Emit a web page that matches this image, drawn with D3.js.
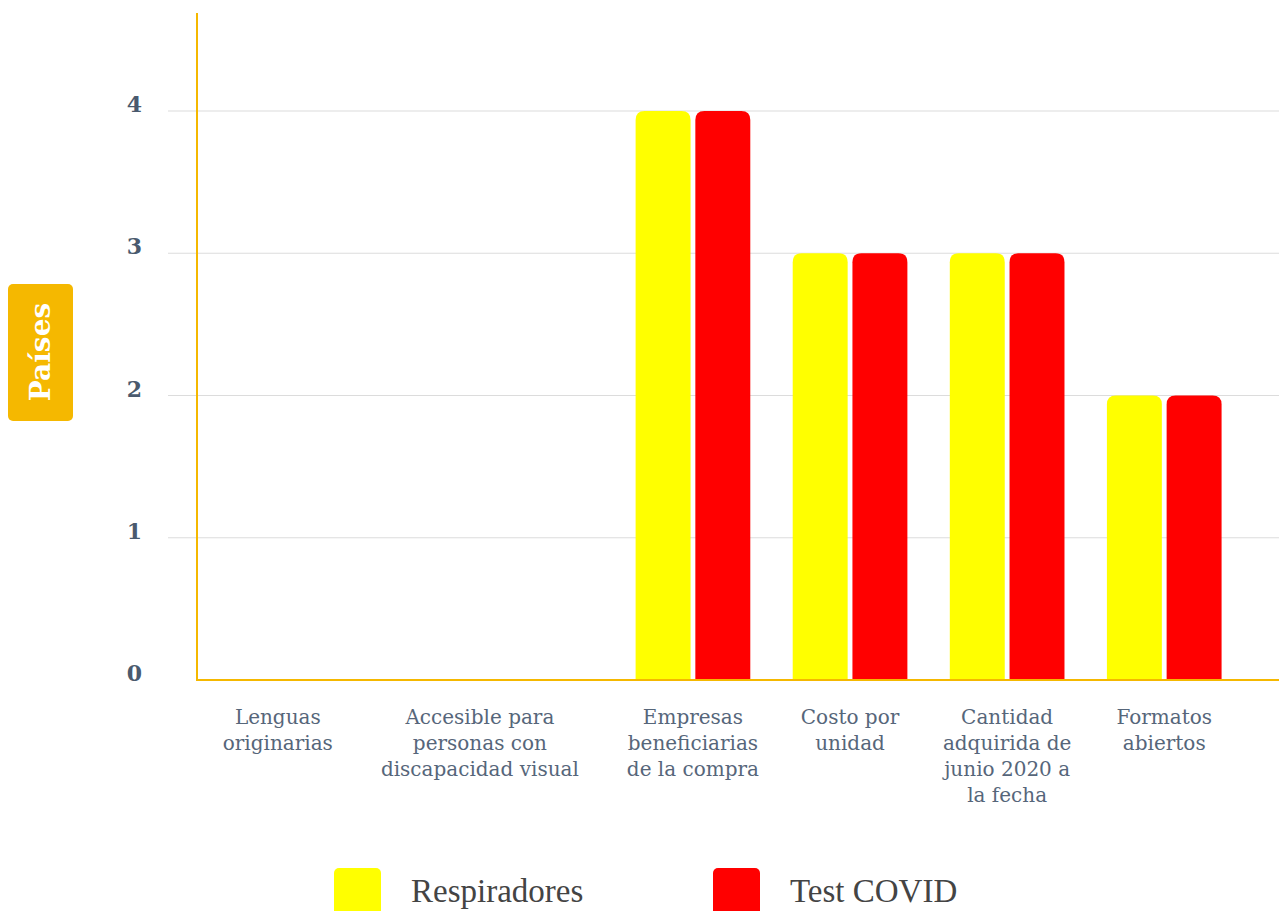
<!DOCTYPE html>
<html>
<head>
<meta charset="utf-8">
<script src="https://cdn.jsdelivr.net/npm/d3@7"></script>
<style>
  html, body { margin: 0; padding: 0; background: #ffffff; }
  svg { display: block; }
</style>
</head>
<body>
<svg id="chart" width="1279" height="911"></svg>
<script>
// Categories (line breaks mark where each label wraps)
const categories = [
  "Lenguas\noriginarias",
  "Accesible para\npersonas con\ndiscapacidad visual",
  "Empresas\nbeneficiarias\nde la compra",
  "Costo por\nunidad",
  "Cantidad\nadquirida de\njunio 2020 a\nla fecha",
  "Formatos\nabiertos"
];
const seriesNames = ["Respiradores", "Test COVID"];
const respiradores = [0, 0, 4, 3, 3, 2];
const testCovid    = [0, 0, 4, 3, 3, 2];
const yTicks = [0, 1, 2, 3, 4];
const axisTitle = "Países";
const seriesColors = ["#ffff00", "#ff0000"];

const svg = d3.select("#chart");
const plot = { left: 197, right: 1279, top: 13, bottom: 680 };
const accent = "#f5b800";
const textColor = "#56667a";

const y = d3.scaleLinear().domain([0, 4]).range([plot.bottom, 111]);

const x = d3.scaleBand()
  .domain(categories)
  .range([279, 1264])
  .paddingInner(0.27)
  .paddingOuter(0.27);

const xs = d3.scaleBand()
  .domain(seriesNames)
  .range([0, x.bandwidth()])
  .paddingInner(0.08);

const values = { "Respiradores": respiradores, "Test COVID": testCovid };

// Gridlines and y tick labels
svg.append("g").selectAll("line")
  .data(yTicks.filter(d => d > 0))
  .join("line")
  .attr("x1", 168).attr("x2", plot.right)
  .attr("y1", d => y(d)).attr("y2", d => y(d))
  .attr("stroke", "#dcdcdc").attr("stroke-width", 1.2);

svg.append("g").selectAll("text")
  .data(yTicks)
  .join("text")
  .attr("x", 142)
  .attr("y", d => y(d) + 1)
  .attr("text-anchor", "end")
  .attr("font-family", "'DejaVu Serif', serif")
  .attr("font-weight", "bold")
  .attr("font-size", 22)
  .attr("fill", "#4a5a6e")
  .text(d => d);

// Bars with rounded tops
function roundedTop(x0, y0, w, h, r) {
  r = Math.min(r, w / 2, h);
  if (h <= 0) return "";
  return `M${x0},${y0 + h}V${y0 + r}Q${x0},${y0} ${x0 + r},${y0}` +
         `H${x0 + w - r}Q${x0 + w},${y0} ${x0 + w},${y0 + r}V${y0 + h}Z`;
}

const groups = svg.append("g").selectAll("g")
  .data(categories.map((c, i) => ({ c, i })))
  .join("g")
  .attr("transform", d => `translate(${x(d.c)},0)`);

groups.selectAll("path")
  .data(d => seriesNames.map((s, k) => ({ s, k, v: values[s][d.i] })))
  .join("path")
  .attr("d", d => roundedTop(xs(d.s), y(d.v), xs.bandwidth(), y(0) - y(d.v), 9))
  .attr("fill", d => seriesColors[d.k]);

// Axis lines
svg.append("line")
  .attr("x1", plot.left).attr("x2", plot.left)
  .attr("y1", plot.top).attr("y2", plot.bottom + 1)
  .attr("stroke", accent).attr("stroke-width", 2);
svg.append("line")
  .attr("x1", plot.left - 1).attr("x2", plot.right)
  .attr("y1", plot.bottom).attr("y2", plot.bottom)
  .attr("stroke", accent).attr("stroke-width", 2);

// Category labels
const labels = svg.append("g").selectAll("text")
  .data(categories)
  .join("text")
  .attr("text-anchor", "middle")
  .attr("font-family", "'DejaVu Serif', serif")
  .attr("font-size", 20)
  .attr("fill", textColor)
  .attr("x", d => x(d) + x.bandwidth() / 2)
  .attr("y", 724);

labels.each(function(d) {
  const t = d3.select(this);
  d.split("\n").forEach((line, i) => {
    t.append("tspan")
      .attr("x", t.attr("x"))
      .attr("dy", i === 0 ? 0 : 26)
      .text(line);
  });
});

// Push labels left where they would collide with the label to their right
const nodes = labels.nodes();
const gap = 48;
for (let i = nodes.length - 2; i >= 0; i--) {
  const a = nodes[i].getBBox();
  const b = nodes[i + 1].getBBox();
  if (a.x + a.width > b.x) {
    const shift = a.x + a.width + gap - b.x;
    const nx = +d3.select(nodes[i]).attr("x") - shift;
    d3.select(nodes[i]).attr("x", nx).selectAll("tspan").attr("x", nx);
  }
}

// Y axis title badge
const badge = svg.append("g").attr("transform", "translate(40,352)");
badge.append("rect")
  .attr("x", -32).attr("y", -68)
  .attr("width", 65).attr("height", 137)
  .attr("rx", 5)
  .attr("fill", accent);
badge.append("text")
  .attr("transform", "rotate(-90)")
  .attr("text-anchor", "middle")
  .attr("dy", "0.35em")
  .attr("font-family", "'DejaVu Serif', serif")
  .attr("font-weight", "bold")
  .attr("font-size", 28)
  .attr("fill", "#ffffff")
  .text(axisTitle);

// Legend
const legend = svg.append("g").selectAll("g")
  .data(seriesNames)
  .join("g")
  .attr("transform", (d, i) => `translate(${334 + i * 379},868)`);
legend.append("rect")
  .attr("width", 47).attr("height", 50)
  .attr("rx", 5)
  .attr("fill", (d, i) => seriesColors[i]);
legend.append("text")
  .attr("x", 77).attr("y", 34)
  .attr("font-family", "'Liberation Serif', serif")
  .attr("font-size", 33)
  .attr("fill", "#444444")
  .text(d => d);
</script>
</body>
</html>
